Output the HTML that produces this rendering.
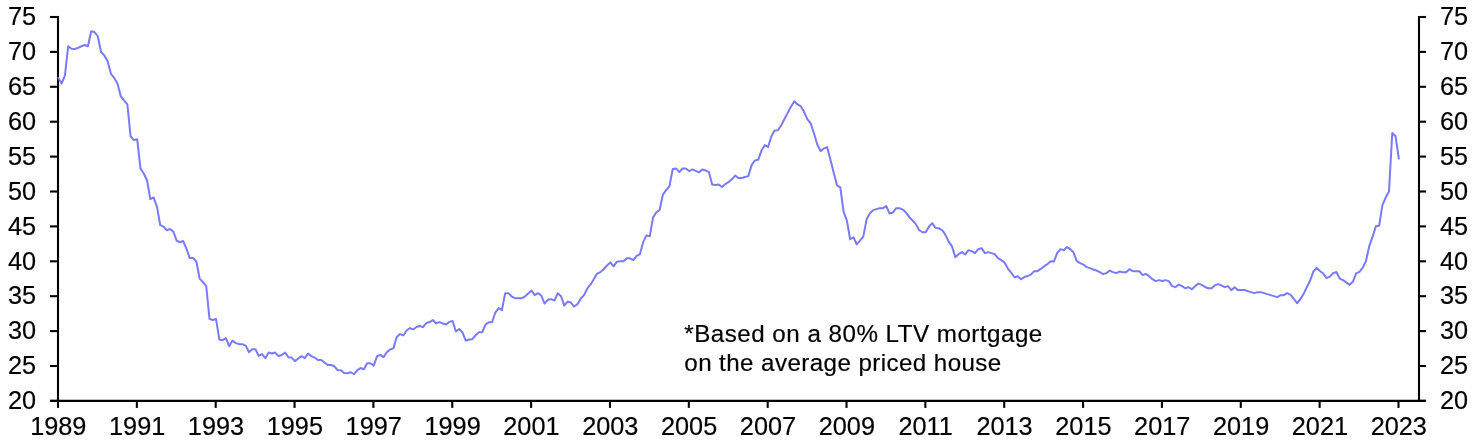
<!DOCTYPE html>
<html lang="en">
<head>
<meta charset="utf-8">
<title>Mortgage payments chart</title>
<style>
html,body{margin:0;padding:0;background:#fff;}
body{width:1476px;height:443px;overflow:hidden;}
svg{display:block;}
text{font-family:"Liberation Sans",Arial,sans-serif;fill:#000;stroke:#000;stroke-width:0.18px;}
.tick{font-size:25.3px;}
.note{font-size:24.2px;}
</style>
</head>
<body>
<svg width="1476" height="443" viewBox="0 0 1476 443">
<rect x="0" y="0" width="1476" height="443" fill="#ffffff"/>

<g stroke="#000" stroke-width="2.1" fill="none" stroke-linecap="butt">
<path d="M58.0 16.0 V401.9"/>
<path d="M1419.0 16.0 V401.9"/>
<path d="M50.0 400.9 H1426.0"/>
</g>
<g stroke="#000" stroke-width="2.1" fill="none">
<path d="M50.0 17.00 H58.0"/>
<path d="M1419.0 17.00 H1426.0"/>
<path d="M50.0 51.90 H58.0"/>
<path d="M1419.0 51.90 H1426.0"/>
<path d="M50.0 86.80 H58.0"/>
<path d="M1419.0 86.80 H1426.0"/>
<path d="M50.0 121.70 H58.0"/>
<path d="M1419.0 121.70 H1426.0"/>
<path d="M50.0 156.60 H58.0"/>
<path d="M1419.0 156.60 H1426.0"/>
<path d="M50.0 191.50 H58.0"/>
<path d="M1419.0 191.50 H1426.0"/>
<path d="M50.0 226.40 H58.0"/>
<path d="M1419.0 226.40 H1426.0"/>
<path d="M50.0 261.30 H58.0"/>
<path d="M1419.0 261.30 H1426.0"/>
<path d="M50.0 296.20 H58.0"/>
<path d="M1419.0 296.20 H1426.0"/>
<path d="M50.0 331.10 H58.0"/>
<path d="M1419.0 331.10 H1426.0"/>
<path d="M50.0 366.00 H58.0"/>
<path d="M1419.0 366.00 H1426.0"/>
<path d="M50.0 400.90 H58.0"/>
<path d="M1419.0 400.90 H1426.0"/>
<path d="M58.00 400.9 V407.9"/>
<path d="M136.85 400.9 V407.9"/>
<path d="M215.70 400.9 V407.9"/>
<path d="M294.56 400.9 V407.9"/>
<path d="M373.41 400.9 V407.9"/>
<path d="M452.26 400.9 V407.9"/>
<path d="M531.11 400.9 V407.9"/>
<path d="M609.96 400.9 V407.9"/>
<path d="M688.82 400.9 V407.9"/>
<path d="M767.67 400.9 V407.9"/>
<path d="M846.52 400.9 V407.9"/>
<path d="M925.37 400.9 V407.9"/>
<path d="M1004.22 400.9 V407.9"/>
<path d="M1083.08 400.9 V407.9"/>
<path d="M1161.93 400.9 V407.9"/>
<path d="M1240.78 400.9 V407.9"/>
<path d="M1319.63 400.9 V407.9"/>
<path d="M1398.48 400.9 V407.9"/>
</g>
<g class="tick">
<text transform="translate(36.1,25.20) scale(1,1.015)" text-anchor="end">75</text>
<text transform="translate(1439.9,25.20) scale(1,1.015)" text-anchor="start">75</text>
<text transform="translate(36.1,60.10) scale(1,1.015)" text-anchor="end">70</text>
<text transform="translate(1439.9,60.10) scale(1,1.015)" text-anchor="start">70</text>
<text transform="translate(36.1,95.00) scale(1,1.015)" text-anchor="end">65</text>
<text transform="translate(1439.9,95.00) scale(1,1.015)" text-anchor="start">65</text>
<text transform="translate(36.1,129.90) scale(1,1.015)" text-anchor="end">60</text>
<text transform="translate(1439.9,129.90) scale(1,1.015)" text-anchor="start">60</text>
<text transform="translate(36.1,164.80) scale(1,1.015)" text-anchor="end">55</text>
<text transform="translate(1439.9,164.80) scale(1,1.015)" text-anchor="start">55</text>
<text transform="translate(36.1,199.70) scale(1,1.015)" text-anchor="end">50</text>
<text transform="translate(1439.9,199.70) scale(1,1.015)" text-anchor="start">50</text>
<text transform="translate(36.1,234.60) scale(1,1.015)" text-anchor="end">45</text>
<text transform="translate(1439.9,234.60) scale(1,1.015)" text-anchor="start">45</text>
<text transform="translate(36.1,269.50) scale(1,1.015)" text-anchor="end">40</text>
<text transform="translate(1439.9,269.50) scale(1,1.015)" text-anchor="start">40</text>
<text transform="translate(36.1,304.40) scale(1,1.015)" text-anchor="end">35</text>
<text transform="translate(1439.9,304.40) scale(1,1.015)" text-anchor="start">35</text>
<text transform="translate(36.1,339.30) scale(1,1.015)" text-anchor="end">30</text>
<text transform="translate(1439.9,339.30) scale(1,1.015)" text-anchor="start">30</text>
<text transform="translate(36.1,374.20) scale(1,1.015)" text-anchor="end">25</text>
<text transform="translate(1439.9,374.20) scale(1,1.015)" text-anchor="start">25</text>
<text transform="translate(36.1,409.10) scale(1,1.015)" text-anchor="end">20</text>
<text transform="translate(1439.9,409.10) scale(1,1.015)" text-anchor="start">20</text>
<text transform="translate(58.30,434.8) scale(1,1.015)" text-anchor="middle">1989</text>
<text transform="translate(137.15,434.8) scale(1,1.015)" text-anchor="middle">1991</text>
<text transform="translate(216.00,434.8) scale(1,1.015)" text-anchor="middle">1993</text>
<text transform="translate(294.86,434.8) scale(1,1.015)" text-anchor="middle">1995</text>
<text transform="translate(373.71,434.8) scale(1,1.015)" text-anchor="middle">1997</text>
<text transform="translate(452.56,434.8) scale(1,1.015)" text-anchor="middle">1999</text>
<text transform="translate(531.41,434.8) scale(1,1.015)" text-anchor="middle">2001</text>
<text transform="translate(610.26,434.8) scale(1,1.015)" text-anchor="middle">2003</text>
<text transform="translate(689.12,434.8) scale(1,1.015)" text-anchor="middle">2005</text>
<text transform="translate(767.97,434.8) scale(1,1.015)" text-anchor="middle">2007</text>
<text transform="translate(846.82,434.8) scale(1,1.015)" text-anchor="middle">2009</text>
<text transform="translate(925.67,434.8) scale(1,1.015)" text-anchor="middle">2011</text>
<text transform="translate(1004.52,434.8) scale(1,1.015)" text-anchor="middle">2013</text>
<text transform="translate(1083.38,434.8) scale(1,1.015)" text-anchor="middle">2015</text>
<text transform="translate(1162.23,434.8) scale(1,1.015)" text-anchor="middle">2017</text>
<text transform="translate(1241.08,434.8) scale(1,1.015)" text-anchor="middle">2019</text>
<text transform="translate(1319.93,434.8) scale(1,1.015)" text-anchor="middle">2021</text>
<text transform="translate(1398.78,434.8) scale(1,1.015)" text-anchor="middle">2023</text>
</g>
<polyline transform="translate(0.35,0.35)" points="58.00,77.60 61.29,83.20 64.57,75.00 67.86,45.90 71.14,48.40 74.43,48.70 77.71,47.50 81.00,45.90 84.28,44.70 87.57,45.90 90.85,30.90 94.14,31.70 97.43,35.90 100.71,51.70 104.00,55.10 107.28,60.90 110.57,73.50 113.85,77.60 117.14,83.20 120.42,96.00 123.71,100.00 127.00,104.10 130.28,136.20 133.57,139.60 136.85,138.80 140.14,168.30 143.42,173.20 146.71,180.10 149.99,198.80 153.28,197.10 156.56,206.20 159.85,224.70 163.14,226.30 166.42,229.90 169.71,228.70 172.99,231.30 176.28,240.30 179.56,241.90 182.85,240.70 186.13,248.40 189.42,257.70 192.71,257.70 195.99,261.10 199.28,278.20 202.56,281.90 205.85,285.60 209.13,318.50 212.42,319.70 215.70,318.70 218.99,339.20 222.28,339.80 225.56,337.80 228.85,345.80 232.13,340.20 235.42,342.80 238.70,343.80 241.99,343.80 245.27,345.20 248.56,351.80 251.84,348.80 255.13,348.80 258.42,355.60 261.70,353.80 264.99,357.80 268.27,352.20 271.56,353.20 274.84,352.20 278.13,355.80 281.41,354.60 284.70,352.20 287.99,356.80 291.27,357.20 294.56,360.80 297.84,358.20 301.13,355.80 304.41,357.80 307.70,353.20 310.98,355.80 314.27,357.20 317.55,359.60 320.84,359.60 324.13,362.20 327.41,364.70 330.70,364.70 333.98,365.90 337.27,369.70 340.55,369.90 343.84,372.70 347.12,372.90 350.41,371.90 353.69,373.90 356.98,369.70 360.27,367.70 363.55,368.90 366.84,362.90 370.12,362.90 373.41,365.30 376.69,355.80 379.98,354.60 383.26,356.80 386.55,351.80 389.84,349.20 393.12,347.80 396.41,336.70 399.69,333.70 402.98,335.10 406.26,330.10 409.55,327.70 412.83,329.10 416.12,326.70 419.40,325.70 422.69,326.70 425.98,322.70 429.26,321.70 432.55,319.70 435.83,323.10 439.12,321.70 442.40,323.10 445.69,324.10 448.97,321.50 452.26,320.70 455.55,331.10 458.83,328.70 462.12,332.10 465.40,340.20 468.69,339.20 471.97,338.80 475.26,334.90 478.54,331.90 481.83,331.90 485.12,324.30 488.40,321.90 491.69,321.90 494.97,312.20 498.26,307.80 501.54,309.80 504.83,292.80 508.11,292.80 511.40,296.20 514.68,297.80 517.97,297.80 521.26,297.80 524.54,296.20 527.83,293.20 531.11,290.10 534.40,294.80 537.68,292.80 540.97,295.20 544.25,303.20 547.54,299.20 550.83,298.80 554.11,300.20 557.40,292.80 560.68,295.80 563.97,305.20 567.25,301.20 570.54,302.20 573.82,306.20 577.11,303.80 580.39,298.20 583.68,294.80 586.97,288.10 590.25,284.10 593.54,278.70 596.82,273.20 600.11,271.80 603.39,268.60 606.68,265.10 609.96,262.10 613.25,266.00 616.53,261.30 619.82,261.00 623.11,261.00 626.39,258.00 629.68,258.00 632.96,259.80 636.25,255.60 639.53,254.00 642.82,241.80 646.10,235.00 649.39,236.00 652.68,217.20 655.96,212.00 659.25,209.70 662.53,194.20 665.82,189.80 669.10,185.70 672.39,168.70 675.67,168.10 678.96,171.70 682.25,168.10 685.53,168.10 688.82,170.70 692.10,169.10 695.39,170.50 698.67,172.10 701.96,169.10 705.24,170.10 708.53,171.70 711.81,184.10 715.10,184.70 718.39,184.10 721.67,186.70 724.96,183.70 728.24,181.70 731.53,179.00 734.81,175.20 738.10,177.70 741.38,177.60 744.67,176.70 747.95,175.80 751.24,164.80 754.53,160.10 757.81,159.50 761.10,150.20 764.38,144.80 767.67,146.60 770.95,136.20 774.24,130.20 777.52,129.80 780.81,125.10 784.10,118.70 787.38,112.50 790.67,106.10 793.95,101.00 797.24,104.10 800.52,106.10 803.81,111.70 807.09,119.10 810.38,123.10 813.66,133.20 816.95,144.20 820.24,150.80 823.52,148.20 826.81,146.80 830.09,159.50 833.38,172.30 836.66,185.00 839.95,187.10 843.23,211.20 846.52,220.20 849.81,238.90 853.09,236.90 856.38,243.90 859.66,240.30 862.95,236.30 866.23,219.20 869.52,212.80 872.80,209.80 876.09,208.80 879.38,207.80 882.66,207.80 885.95,205.80 889.23,213.20 892.52,212.20 895.80,207.80 899.09,207.80 902.37,209.20 905.66,212.20 908.94,216.80 912.23,220.20 915.52,223.80 918.80,229.90 922.09,231.90 925.37,231.90 928.66,226.20 931.94,222.80 935.23,227.70 938.51,227.90 941.80,229.70 945.08,234.50 948.37,241.30 951.66,246.00 954.94,256.80 958.23,253.80 961.51,251.80 964.80,254.20 968.08,249.80 971.37,250.80 974.65,252.80 977.94,248.80 981.23,247.80 984.51,252.80 987.80,251.80 991.08,252.80 994.37,253.80 997.65,257.80 1000.94,259.80 1004.22,262.20 1007.51,268.20 1010.79,272.20 1014.08,276.90 1017.37,275.90 1020.65,278.90 1023.94,276.70 1027.22,275.70 1030.51,274.30 1033.79,270.80 1037.08,270.80 1040.36,268.60 1043.65,266.20 1046.94,263.80 1050.22,260.80 1053.51,261.20 1056.79,252.80 1060.08,248.80 1063.36,249.80 1066.65,246.70 1069.93,248.80 1073.22,252.20 1076.51,260.70 1079.79,262.80 1083.08,264.20 1086.36,266.80 1089.65,267.80 1092.93,269.20 1096.22,270.20 1099.50,271.80 1102.79,273.80 1106.07,272.80 1109.36,270.20 1112.65,271.80 1115.93,272.80 1119.22,271.20 1122.50,271.80 1125.79,271.80 1129.07,268.80 1132.36,270.80 1135.64,270.80 1138.93,270.80 1142.21,274.80 1145.50,273.60 1148.79,275.80 1152.07,278.80 1155.36,280.80 1158.64,279.80 1161.93,280.60 1165.21,279.80 1168.50,280.80 1171.78,285.80 1175.07,286.80 1178.36,284.20 1181.64,285.80 1184.93,287.90 1188.21,286.80 1191.50,288.90 1194.78,285.80 1198.07,283.20 1201.35,284.60 1204.64,286.60 1207.92,287.90 1211.21,288.00 1214.50,285.00 1217.78,283.80 1221.07,285.00 1224.35,286.80 1227.64,285.80 1230.92,289.80 1234.21,286.80 1237.49,289.60 1240.78,289.60 1244.07,289.60 1247.35,290.80 1250.64,291.80 1253.92,292.80 1257.21,291.80 1260.49,291.80 1263.78,292.80 1267.06,293.80 1270.35,294.80 1273.63,295.80 1276.92,296.80 1280.21,294.80 1283.49,294.80 1286.78,292.80 1290.06,294.20 1293.35,298.30 1296.63,302.90 1299.92,298.90 1303.20,293.80 1306.49,286.80 1309.78,280.20 1313.06,271.10 1316.35,267.70 1319.63,270.70 1322.92,273.20 1326.20,277.80 1329.49,276.30 1332.77,272.80 1336.06,271.60 1339.35,278.20 1342.63,279.80 1345.92,282.00 1349.20,284.50 1352.49,281.50 1355.77,273.00 1359.06,271.50 1362.34,267.50 1365.63,260.60 1368.91,245.70 1372.20,236.60 1375.49,226.00 1378.77,225.40 1382.06,204.70 1385.34,197.20 1388.63,191.10 1391.91,132.60 1395.20,135.90 1398.48,158.20" fill="none" stroke="#7a7afd" stroke-width="2" stroke-linejoin="round" stroke-linecap="round"/>
<g class="note">
<text transform="translate(684.3,341.8) scale(1,1.015)" textLength="358" lengthAdjust="spacing">*Based on a 80% LTV mortgage</text>
<text transform="translate(684.3,370.6) scale(1,1.015)" textLength="317" lengthAdjust="spacing">on the average priced house</text>
</g>
</svg>
</body>
</html>
